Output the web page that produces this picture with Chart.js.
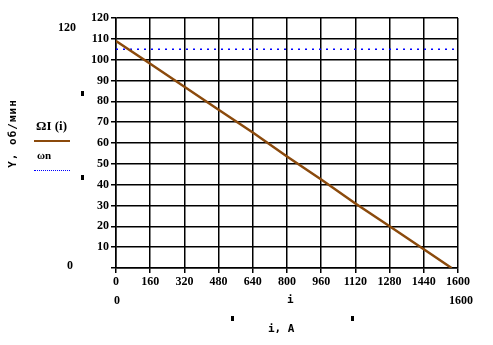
<!DOCTYPE html>
<html>
<head>
<meta charset="utf-8">
<script src="https://cdn.jsdelivr.net/npm/chart.js@4.4.0/dist/chart.umd.min.js"></script>
<style>
  body { margin: 0; background: #fff; }
  #wrap { position: relative; width: 493px; height: 345px; }
  .lbl { position: absolute; font-family: "Liberation Serif", serif; font-weight: bold; font-size: 12px; color: #000; white-space: nowrap; line-height: 1; }
  .mono { font-family: "DejaVu Sans Mono", monospace; font-weight: bold; font-size: 11px; }
  .sq { position: absolute; width: 3px; height: 5px; background: #000; }
</style>
</head>
<body>
<div id="wrap">
  <canvas id="canvas" width="493" height="345"></canvas>
  <div class="lbl" style="left:58px;top:21px;">120</div>
  <div class="lbl" style="left:67px;top:259px;">0</div>
  <div class="lbl" style="left:114px;top:294px;">0</div>
  <div class="lbl" style="left:449px;top:294px;">1600</div>
  <div class="lbl mono" style="left:287px;top:294px;">i</div>
  <div class="lbl mono" style="left:268px;top:323px;">i, A</div>
  <div class="lbl" style="left:36px;top:119px;font-size:13px;">ΩI (i)</div>
  <div style="position:absolute;left:34px;top:140px;width:36px;height:2px;background:#8b4a0c;"></div>
  <div class="lbl" style="left:37px;top:150px;font-size:11px;">ωn</div>
  <div style="position:absolute;left:34px;top:170px;width:36px;border-top:1px dotted #0000ff;"></div>
  <div class="lbl mono" style="left:-22px;top:128px;transform:rotate(-90deg);letter-spacing:1px;">Y, об/мин</div>
  <div class="sq" style="left:81px;top:91px;"></div>
  <div class="sq" style="left:81px;top:175px;"></div>
  <div class="sq" style="left:231px;top:316px;"></div>
  <div class="sq" style="left:351px;top:316px;"></div>
</div>
<script>
// values
const current = [0, 160, 320, 480, 640, 800, 960, 1120, 1280, 1440, 1570];
const omegaI = [109, 98, 87, 76, 65, 53.5, 42.5, 31, 20, 9, 0];
const omegaNx = [0, 1600];
const omegaN = [105, 105];
const xTicks = [0, 160, 320, 480, 640, 800, 960, 1120, 1280, 1440, 1600];
const yTicks = [0, 10, 20, 30, 40, 50, 60, 70, 80, 90, 100, 110, 120];

const tickFont = { family: 'Liberation Serif', weight: 'bold', size: 12 };

const myChart = new Chart(
    document.getElementById('canvas'),
    {
        type: 'scatter',
        data: {
            datasets: [
                {
                    data: current.map((x, k) => ({ x: x, y: omegaI[k] })),
                    showLine: true,
                    borderColor: '#8b4a0c',
                    borderWidth: 2.5,
                    pointRadius: 0,
                    fill: false
                },
                {
                    data: omegaNx.map((x, k) => ({ x: x, y: omegaN[k] })),
                    showLine: true,
                    borderColor: '#0000ff',
                    borderWidth: 1.5,
                    borderDash: [2, 5],
                    pointRadius: 0,
                    fill: false
                }
            ]
        },
        options: {
            responsive: false,
            animation: false,
            layout: { padding: { left: 80, top: 18, right: 35, bottom: 55 } },
            plugins: { legend: { display: false }, tooltip: { enabled: false } },
            scales: {
                x: {
                    type: 'linear', min: 0, max: 1600,
                    afterBuildTicks: (s) => { s.ticks = xTicks.map(v => ({ value: v })); },
                    afterFit: (s) => { s.height = 22; },
                    ticks: { color: '#000', font: tickFont, maxRotation: 0, padding: 2, callback: (v) => String(v) },
                    grid: { color: '#000', lineWidth: 1.5, tickLength: 5 },
                    border: { color: '#000', width: 1.5 }
                },
                y: {
                    min: 0, max: 120,
                    afterBuildTicks: (s) => { s.ticks = yTicks.map(v => ({ value: v })); },
                    afterFit: (s) => { s.width = 36; },
                    ticks: { color: '#000', font: tickFont, padding: 2, callback: (v) => v === 0 ? '' : String(v) },
                    grid: { color: '#000', lineWidth: 1.5, tickLength: 5 },
                    border: { color: '#000', width: 1.5 }
                }
            }
        }
    }
);
</script>
</body>
</html>
